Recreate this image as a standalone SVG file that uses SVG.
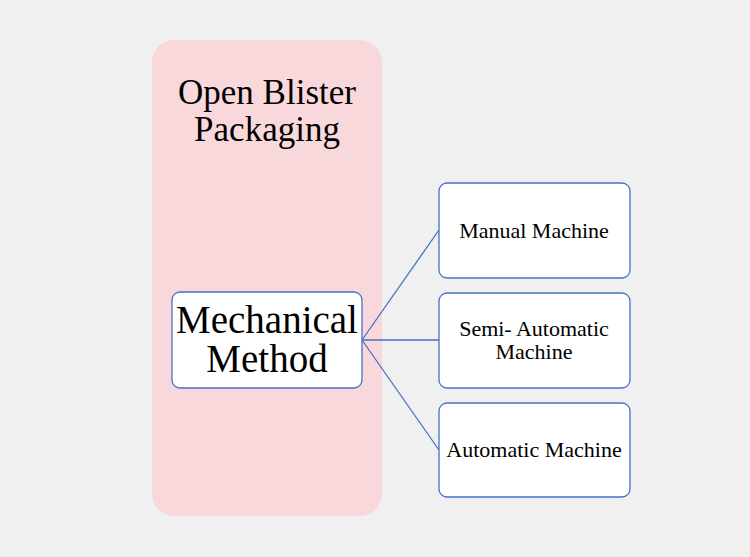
<svg xmlns="http://www.w3.org/2000/svg" width="750" height="557" viewBox="0 0 750 557">
<style>
.box{fill:#fff;stroke:#4472c4;stroke-width:1.3}
.t{font-family:"Liberation Serif",serif;fill:#000;text-anchor:middle}
.s{font-size:22px}
.c{stroke:#4472c4;stroke-width:1.3;fill:none}
</style>
<rect width="750" height="557" fill="#f0f0f0"/>
<g id="group">
<rect x="152" y="40" width="230" height="476" rx="22" fill="#f9d8dc"/>
<text class="t" x="267" y="104" font-size="35">Open Blister</text>
<text class="t" x="267" y="141" font-size="35">Packaging</text>
</g>
<g id="connectors">
<line class="c" x1="362" y1="340" x2="439" y2="230"/>
<line class="c" x1="362" y1="340" x2="439" y2="340"/>
<line class="c" x1="362" y1="340" x2="439" y2="450"/>
</g>
<g id="mechanical">
<rect class="box" x="172" y="292" width="190" height="96" rx="8"/>
<text class="t" x="267" y="333" font-size="39">Mechanical</text>
<text class="t" x="267" y="372" font-size="39">Method</text>
</g>
<g id="manual">
<rect class="box" x="439" y="183" width="191" height="95" rx="8"/>
<text class="t s" x="534" y="238">Manual Machine</text>
</g>
<g id="semi">
<rect class="box" x="439" y="293" width="191" height="95" rx="8"/>
<text class="t s" x="534" y="336">Semi- Automatic</text>
<text class="t s" x="534" y="359">Machine</text>
</g>
<g id="automatic">
<rect class="box" x="439" y="403" width="191" height="94" rx="8"/>
<text class="t s" x="534" y="457">Automatic Machine</text>
</g>
</svg>
